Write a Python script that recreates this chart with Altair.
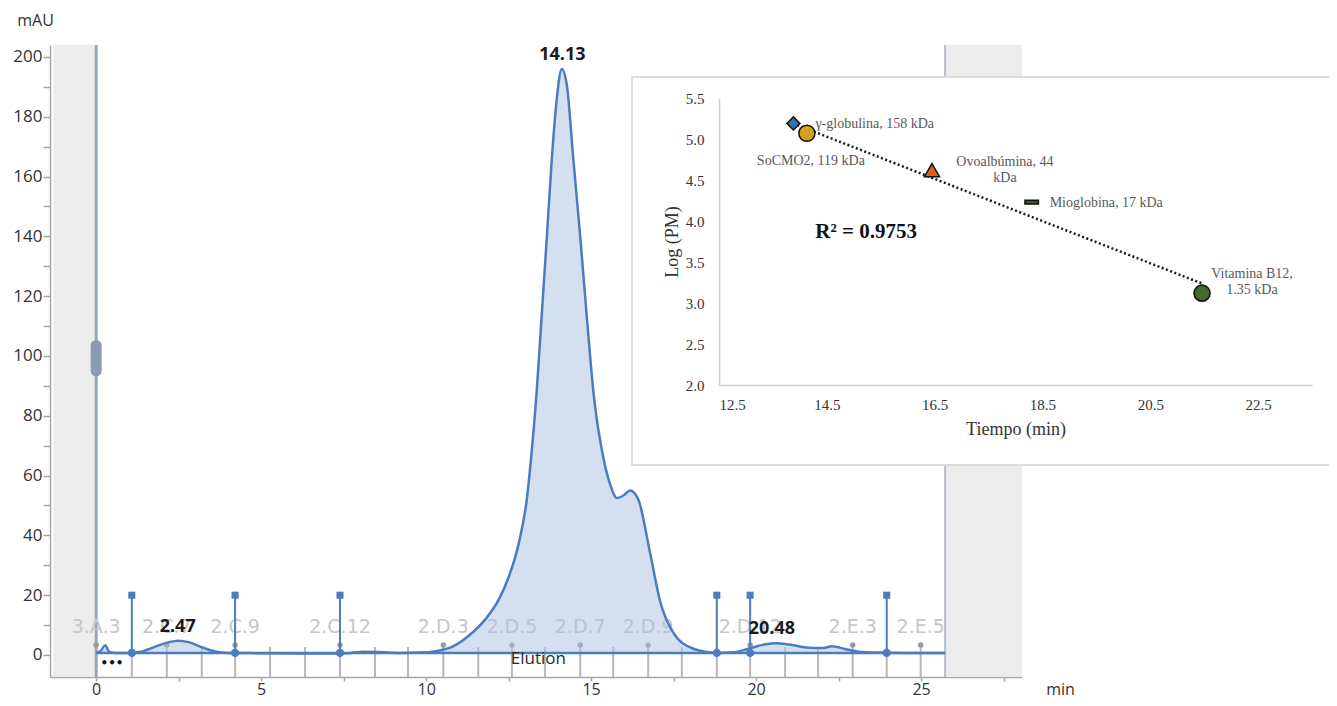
import altair as alt
import pandas as pd

# ---------------- chromatogram data ----------------
time_min = [0.0, 0.15, 0.27, 0.4, 0.6, 1.0, 1.4, 1.8, 2.2, 2.5, 2.8, 3.2, 3.6, 4.0,
            5.0, 6.0, 7.0, 7.6, 8.1, 8.6, 9.2, 9.8, 10.3, 10.8, 11.3, 11.8, 12.2,
            12.5, 12.8, 13.05, 13.2, 13.35, 13.5, 13.66, 13.81, 13.96, 14.11, 14.26,
            14.46, 14.67, 14.87, 14.97, 15.07, 15.17, 15.32, 15.45, 15.58, 15.78, 16.0,
            16.18, 16.43, 16.79, 17.09, 17.49, 18.1, 18.8, 19.3, 19.8, 20.3, 20.6,
            21.0, 21.6, 22.0, 22.3, 22.7, 23.1, 23.6, 24.5, 25.7]
absorb_mAU = [0.7, 1.5, 3.3, 1.0, 0.7, 0.7, 1.2, 2.8, 4.3, 4.8, 4.3, 2.6, 1.2, 0.7,
              0.6, 0.5, 0.5, 0.6, 1.1, 1.0, 0.7, 0.8, 1.3, 2.8, 6.5, 12.0, 18.5,
              26.0, 37.0, 52.0, 68.0, 88.0, 113.0, 140.0, 166.0, 186.0, 196.0, 191.0,
              166.0, 140.0, 113.0, 100.0, 88.0, 79.0, 69.0, 62.0, 57.0, 52.5, 53.5,
              55.0, 52.0, 34.0, 18.0, 7.5, 2.1, 0.7, 0.9, 2.2, 3.6, 3.9,
              3.5, 2.4, 2.3, 2.9, 2.0, 1.1, 0.8, 0.7, 0.7]
baseline_mAU = 0.7
run_start = 0.0
run_end = 25.73
view_min, view_max = -1.4, 28.06
y_min, y_max = -7.36, 204.0

band_from = [-1.3, 25.73]
band_to = [0.0, 28.06]

frac_bounds = [1.08, 2.14, 3.2, 4.21, 5.27, 6.33, 7.39, 8.45, 9.45, 10.52, 11.58, 12.6,
               13.6, 14.67, 15.67, 16.73, 17.75, 18.81, 19.82, 20.88, 21.88, 22.93,
               23.96, 24.99]
frac_names = ["3.A.3", "2.C.7", "2.C.9", "2.C.12", "2.D.3", "2.D.5", "2.D.7", "2.D.9",
              "2.D.12", "2.E.3", "2.E.5"]
frac_name_pos = [0.0, 2.14, 4.21, 7.39, 10.52, 12.6, 14.67, 16.73, 19.82, 22.93, 24.99]

event_times = [1.08, 4.21, 7.39, 18.81, 19.82, 23.96]
event_height = 20.0

peak_times = [2.47, 14.13, 20.48]
peak_heights = [4.8, 196.0, 3.9]

handle_time = [0.0]
handle_lo = [95.0]
handle_hi = [103.5]

x_ticks = [0, 2.5, 5, 7.5, 10, 12.5, 15, 17.5, 20, 22.5, 25, 27.5]
y_ticks = list(range(0, 201, 10))

# ---------------- calibration inset data ----------------
std_names = ["γ-globulina, 158 kDa", "SoCMO2, 119 kDa", "Ovoalbúmina, 44\nkDa",
             "Mioglobina, 17 kDa", "Vitamina B12,\n1.35 kDa"]
std_time = [13.88, 14.13, 16.45, 18.3, 21.46]
std_logpm = [5.19, 5.07, 4.62, 4.23, 3.12]
trend_time = [13.95, 21.45]
trend_logpm = [5.17, 3.24]
r_squared = 0.9753
inset_x_ticks = [12.5, 14.5, 16.5, 18.5, 20.5, 22.5]
inset_y_ticks = [2.0, 2.5, 3.0, 3.5, 4.0, 4.5, 5.0, 5.5]

# ---------------- styles ----------------
FONT = "Open Sans"
SERIF = "Liberation Serif"
BLUE = "#4a7dc0"
W, H = 972, 632

x_axis = alt.Axis(orient="bottom", values=x_ticks, format="d",
                  labelExpr="datum.value % 5 === 0 ? datum.label : ''",
                  grid=False, domainColor="#a6a6a6", domainWidth=1.5,
                  tickColor="#a6a6a6", tickWidth=1.5, tickSize=4,
                  labelFont=FONT, labelFontSize=16, labelColor="#333333", labelPadding=0,
                  title="min", titleX=1010, titleY=12, titleAngle=0, titleAlign="center",
                  titleBaseline="middle", titleFont=FONT, titleFontSize=16,
                  titleFontWeight="normal", titleColor="#333333")
y_axis = alt.Axis(orient="left", values=y_ticks, format="d",
                  labelExpr="datum.value % 20 === 0 ? datum.label : ''",
                  grid=False, domainColor="#a6a6a6", domainWidth=1.5,
                  tickColor="#a6a6a6", tickWidth=1.5, tickSize=7,
                  labelFont=FONT, labelFontSize=17, labelColor="#333333", labelPadding=1,
                  title="mAU", titleX=-15, titleY=-25, titleAngle=0, titleAlign="center",
                  titleBaseline="middle", titleFont=FONT, titleFontSize=16,
                  titleFontWeight="normal", titleColor="#333333")

xs = alt.Scale(domain=[view_min, view_max], nice=False, zero=False)
ys = alt.Scale(domain=[y_min, y_max], nice=False, zero=False)


def mx(f):
    return alt.X(f, type="quantitative", scale=xs, axis=x_axis)


def my(f):
    return alt.Y(f, type="quantitative", scale=ys, axis=y_axis)


curve = pd.DataFrame({"t": time_min, "v": absorb_mAU})
curve["base"] = baseline_mAU
bands = pd.DataFrame({"a": band_from, "b": band_to})
edges = pd.DataFrame({"t": [run_start, run_end]})
fr = pd.DataFrame({"t": frac_bounds})
fl = pd.DataFrame({"t": frac_name_pos, "name": frac_names})
ev = pd.DataFrame({"t": event_times})
ev["top"] = event_height
ev["base"] = baseline_mAU
pk = pd.DataFrame({"t": peak_times, "v": peak_heights})
pk["lab"] = [f"{t:.2f}" for t in peak_times]
hd = pd.DataFrame({"t": handle_time, "lo": handle_lo, "hi": handle_hi})
base_df = pd.DataFrame({"a": [run_start], "b": [run_end], "v": [baseline_mAU]})
one = pd.DataFrame({"t": [0.48], "v": [-2.7], "lab": ["•••"]})
elu = pd.DataFrame({"t": [13.4], "v": [-1.3], "lab": ["Elution"]})

layers = [
    alt.Chart(bands).mark_rect(color="#ececec").encode(
        x=mx("a"), x2=alt.X2("b"), y=alt.value(0), y2=alt.value(H)),
    alt.Chart(edges.iloc[[0]]).mark_rule(color="#97a6b8", strokeWidth=3).encode(
        x=mx("t"), y=alt.value(0), y2=alt.value(H)),
    alt.Chart(edges.iloc[[1]]).mark_rule(color="#b4bccb", strokeWidth=2).encode(
        x=mx("t"), y=alt.value(0), y2=alt.value(H)),
    alt.Chart(fr).mark_rule(color="#b8b8b8", strokeWidth=2).encode(
        x=mx("t"), y=alt.value(602), y2=alt.value(H)),
    alt.Chart(fl).mark_point(filled=True, color="#9a9a9a", size=30, opacity=1).encode(
        x=mx("t"), y=alt.value(600)),
    alt.Chart(fl).mark_text(font="DejaVu Sans", fontSize=19, color="#c6c6c6",
                            align="center", baseline="middle").encode(
        x=mx("t"), y=alt.value(582), text="name:N"),
    alt.Chart(curve).mark_area(color="#a9c1e2", opacity=0.5, interpolate="monotone").encode(
        x=mx("t"), y=my("v"), y2=alt.Y2("base")),
    alt.Chart(curve).mark_line(color=BLUE, strokeWidth=2.5, interpolate="monotone").encode(
        x=mx("t"), y=my("v")),
    alt.Chart(base_df).mark_rule(color=BLUE, strokeWidth=2.5).encode(
        x=mx("a"), x2=alt.X2("b"), y=my("v")),
    alt.Chart(ev).mark_rule(color=BLUE, strokeWidth=2).encode(
        x=mx("t"), y=my("base"), y2=alt.Y2("top")),
    alt.Chart(ev).mark_point(shape="square", filled=True, color=BLUE, size=50, opacity=1).encode(
        x=mx("t"), y=my("top")),
    alt.Chart(ev).mark_point(shape="circle", filled=True, color=BLUE, size=70, opacity=1).encode(
        x=mx("t"), y=my("base")),
    alt.Chart(hd).mark_rule(color="#8c9bb0", strokeWidth=11, strokeCap="round").encode(
        x=mx("t"), y=my("lo"), y2=alt.Y2("hi")),
    alt.Chart(pk).mark_text(font=FONT, fontSize=18, fontWeight="bold", color="#1a1a1a",
                            align="center", baseline="middle", dy=-14).encode(
        x=mx("t"), y=my("v"), text="lab:N"),
    alt.Chart(one).mark_text(font="DejaVu Sans", fontSize=12, fontWeight="bold",
                             color="#111111", align="center", baseline="middle").encode(
        x=mx("t"), y=my("v"), text="lab:N"),
    alt.Chart(elu).mark_text(font=FONT, fontSize=17, color="#2a2a2a",
                             align="center", baseline="middle").encode(
        x=mx("t"), y=my("v"), text="lab:N"),
]
main = alt.layer(*layers)

# ---------------- inset ----------------
ix_axis = alt.Axis(orient="bottom", offset=-292, values=inset_x_ticks, format=".1f",
                   grid=False, ticks=False, tickSize=0, domainColor="#cfcfcf", domainWidth=1.5,
                   labelFont=SERIF, labelFontSize=15, labelColor="#333333", labelPadding=12,
                   title="Tiempo (min)", titleFont=SERIF, titleFontSize=18,
                   titleFontWeight="normal", titleColor="#333333", titlePadding=8, zindex=2)
iy_axis = alt.Axis(orient="left", offset=-669, values=inset_y_ticks, format=".1f",
                   grid=False, ticks=False, tickSize=0, domainColor="#cfcfcf", domainWidth=1.5,
                   labelFont=SERIF, labelFontSize=15, labelColor="#333333", labelPadding=15,
                   title="Log (PM)", titleFont=SERIF, titleFontSize=18,
                   titleFontWeight="normal", titleColor="#333333", titlePadding=4, zindex=2)
ixs = alt.Scale(domain=[12.5, 23.5], range=[669, 1262], nice=False, zero=False)
iys = alt.Scale(domain=[2.0, 5.5], range=[340, 53], nice=False, zero=False)


def ix(f):
    return alt.X(f, type="quantitative", scale=ixs, axis=ix_axis)


def iy(f):
    return alt.Y(f, type="quantitative", scale=iys, axis=iy_axis)


std = pd.DataFrame({"t": std_time, "v": std_logpm, "name": std_names})
trend = pd.DataFrame({"t": trend_time, "v": trend_logpm})

marker_style = [
    dict(shape="diamond", color="#2e75b6", size=170),
    dict(shape="circle", color="#d3a21c", size=260),
    dict(shape="triangle-up", color="#e2620f", size=230),
    dict(shape="M-1,-0.28L1,-0.28L1,0.28L-1,0.28Z", color="#3a5a25", size=180),
    dict(shape="circle", color="#416a2b", size=260),
]
label_style = [
    dict(dx=22, dy=1, align="left", baseline="middle"),
    dict(dx=4, dy=28, align="center", baseline="middle"),
    dict(dx=73, dy=-15, align="center", baseline="top"),
    dict(dx=18, dy=1, align="left", baseline="middle"),
    dict(dx=50, dy=-26, align="center", baseline="top"),
]

box = alt.Chart(pd.DataFrame({"k": [0]})).mark_rect(
    fill="white", stroke="#d4d4d4", strokeWidth=1.5).encode(
    x=alt.value(582), x2=alt.value(1287), y=alt.value(32), y2=alt.value(420))

inset_layers = [
    box,
    alt.Chart(trend).mark_line(color="#1a1a1a", strokeWidth=2.5, strokeDash=[2, 2.5]).encode(
        x=ix("t"), y=iy("v")),
]
for i, (ms, ls) in enumerate(zip(marker_style, label_style)):
    row = std.iloc[[i]]
    inset_layers.append(
        alt.Chart(row).mark_point(shape=ms["shape"], filled=True, fill=ms["color"],
                                  stroke="#111111", strokeWidth=1.5, size=ms["size"],
                                  opacity=1).encode(x=ix("t"), y=iy("v")))
    inset_layers.append(
        alt.Chart(row).mark_text(font=SERIF, fontSize=14, color="#595959", lineBreak="\n",
                                 lineHeight=16, **ls).encode(
            x=ix("t"), y=iy("v"), text="name:N"))

r2_df = pd.DataFrame({"t": [15.23], "v": [3.866], "lab": [f"R² = {r_squared}"]})
inset_layers.append(
    alt.Chart(r2_df).mark_text(font=SERIF, fontSize=21, fontWeight="bold", color="#111111",
                               align="center", baseline="middle").encode(
        x=ix("t"), y=iy("v"), text="lab:N"))

inset = alt.layer(*inset_layers)

chart = alt.layer(main, inset).resolve_scale(x="independent", y="independent").properties(
    width=W, height=H,
    padding={"left": 42, "top": 37, "right": 307, "bottom": 21},
    autosize=alt.AutoSizeParams(type="none"),
).configure_view(stroke=None)

chart.save("out.html", embed_options={"renderer": "svg", "actions": False})
